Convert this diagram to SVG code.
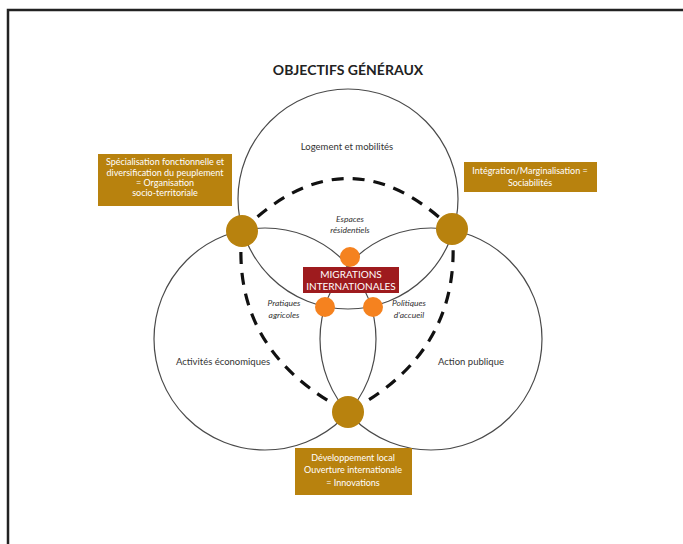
<svg xmlns="http://www.w3.org/2000/svg" width="683" height="544" viewBox="0 0 683 544">
<style>
text{font-family:Lato,"Open Sans","Liberation Sans",sans-serif;}
.c{fill:none;stroke:#4a4a4a;stroke-width:1.2}
.d{fill:none;stroke:#111;stroke-width:3.2;stroke-dasharray:12 9}
.gold{fill:#B8820E}
.bt{fill:#fff;font-size:9px;text-anchor:middle}
.lab{fill:#333;font-size:9.5px;text-anchor:middle}
.it{fill:#333;font-size:8.5px;font-style:italic;text-anchor:middle}
.on{fill:#F5821F}
</style>
<rect width="683" height="544" fill="#fff"/>
<path d="M8,544 V10 H683" fill="none" stroke="#222" stroke-width="2.5"/>
<text x="348" y="75" font-size="14" font-weight="bold" text-anchor="middle" fill="#222">OBJECTIFS GÉNÉRAUX</text>
<g id="circles">
<circle id="c-top" class="c" cx="348" cy="199" r="110"/>
<circle id="c-left" class="c" cx="265" cy="339" r="111"/>
<circle id="c-right" class="c" cx="431" cy="339" r="111"/>
</g>
<g id="connectors">
<path class="d" d="M242,231 Q347,127 452,229"/>
<path class="d" d="M242,231 Q230,351 348,412"/>
<path class="d" d="M452,229 Q464,351 348,412"/>
</g>
<g id="labels">
<text class="lab" x="347" y="150">Logement et mobilités</text>
<text class="lab" x="223" y="365">Activités économiques</text>
<text class="lab" x="471" y="365">Action publique</text>
<text class="it" x="350" y="222">Espaces</text>
<text class="it" x="350" y="233">résidentiels</text>
<text class="it" x="284" y="306">Pratiques</text>
<text class="it" x="284" y="318">agricoles</text>
<text class="it" x="409" y="306">Politiques</text>
<text class="it" x="409" y="318">d'accueil</text>
</g>
<g id="n-left"><circle class="gold" cx="242" cy="231" r="16"/></g>
<g id="n-right"><circle class="gold" cx="452" cy="229" r="16"/></g>
<g id="n-bottom"><circle class="gold" cx="348" cy="412" r="16"/></g>
<g id="o-top"><circle class="on" cx="350" cy="257" r="10"/></g>
<g id="o-left"><circle class="on" cx="325" cy="307" r="10"/></g>
<g id="o-right"><circle class="on" cx="373" cy="307" r="10"/></g>
<g id="migrations">
<rect x="303" y="267" width="96" height="26" fill="#9E1B1E"/>
<text x="351" y="278" fill="#fff" font-size="10" text-anchor="middle">MIGRATIONS</text>
<text x="351" y="290" fill="#fff" font-size="10" text-anchor="middle">INTERNATIONALES</text>
</g>
<g id="box-left">
<rect class="gold" x="98" y="154" width="134" height="52"/>
<text class="bt" x="165" y="165">Spécialisation fonctionnelle et</text>
<text class="bt" x="165" y="176">diversification du peuplement</text>
<text class="bt" x="165" y="186">= Organisation</text>
<text class="bt" x="165" y="196">socio-territoriale</text>
</g>
<g id="box-right">
<rect class="gold" x="464" y="162" width="133" height="30"/>
<text class="bt" x="530" y="174">Intégration/Marginalisation =</text>
<text class="bt" x="530" y="186">Sociabilités</text>
</g>
<g id="box-bottom">
<rect class="gold" x="295" y="448" width="117" height="47"/>
<text class="bt" x="353" y="461">Développement local</text>
<text class="bt" x="353" y="473">Ouverture internationale</text>
<text class="bt" x="353" y="486">= Innovations</text>
</g>
</svg>
